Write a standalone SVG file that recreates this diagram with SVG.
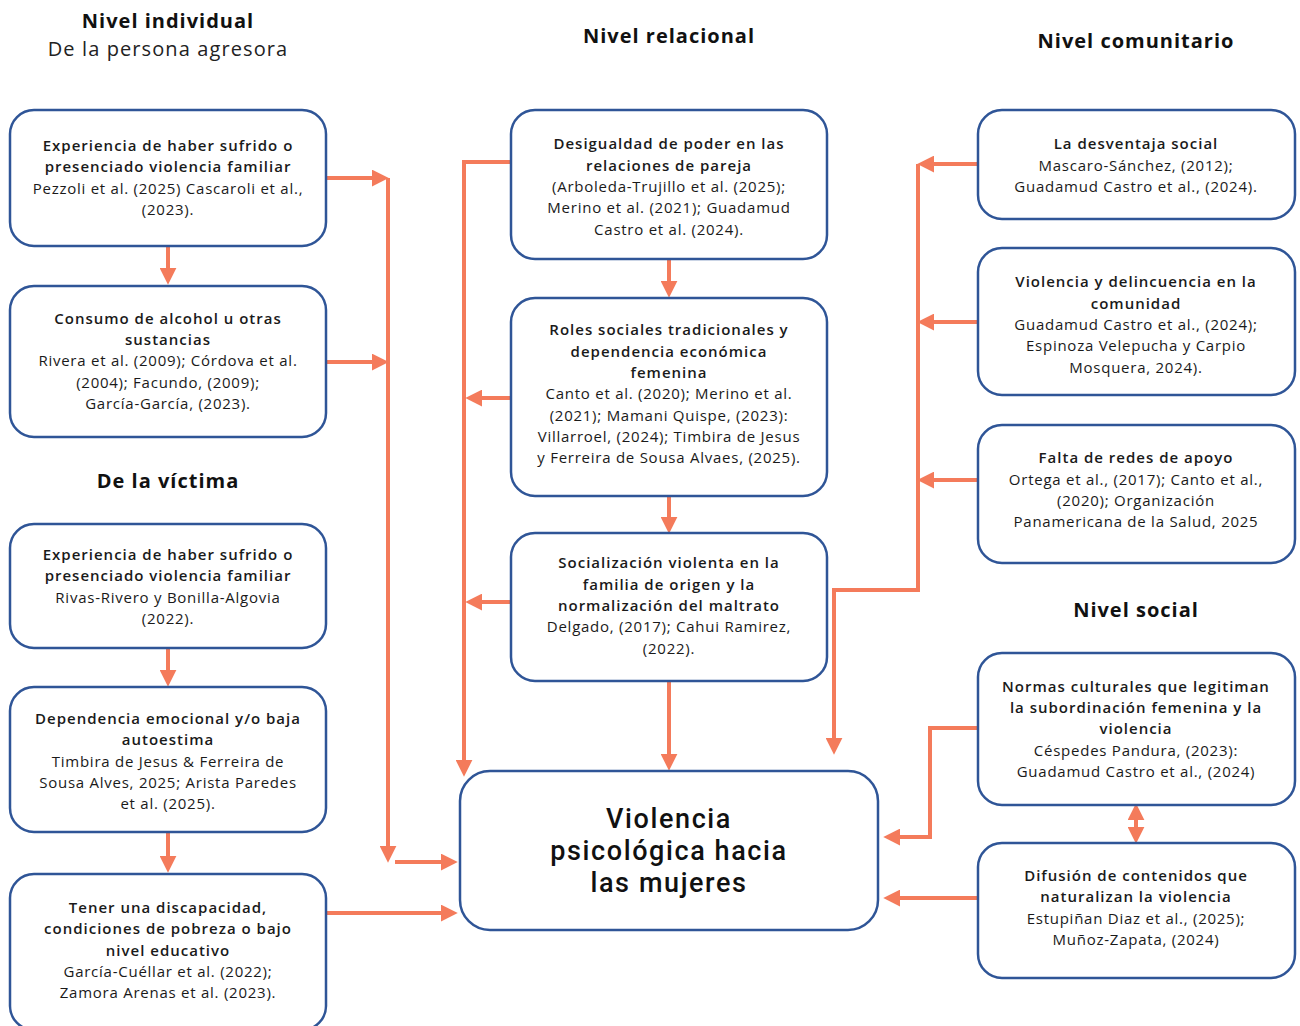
<svg xmlns="http://www.w3.org/2000/svg" width="1300" height="1026" viewBox="0 0 1300 1026">
<style>
.box{fill:#fff;stroke:#2F5597;stroke-width:2.5}
.t{font-family:"Open Sans","Liberation Sans",sans-serif;font-size:15px;fill:#1a1a1a;text-anchor:middle;letter-spacing:0.75px}
.b{font-weight:600;letter-spacing:1px}
.h{font-family:"Open Sans","Liberation Sans",sans-serif;font-size:20px;font-weight:700;fill:#111;text-anchor:middle;letter-spacing:1px}
.hr{font-family:"Open Sans","Liberation Sans",sans-serif;font-size:20px;fill:#222;text-anchor:middle;letter-spacing:1.1px}
.m{font-family:Roboto,"Liberation Sans",sans-serif;font-size:27px;font-weight:500;fill:#111;text-anchor:middle;letter-spacing:1.6px}
.c{fill:none;stroke:#F47B5B;stroke-width:4;marker-end:url(#ah)}
</style>
<defs>
<marker id="ah" markerUnits="userSpaceOnUse" markerWidth="17" markerHeight="17" viewBox="0 0 16 16" refX="4" refY="8" orient="auto-start-reverse">
<path d="M0,0 L16,8 L0,16 z" fill="#F47B5B"/>
</marker>
</defs>

<g id="headers">
<text class="h" x="168" y="28">Nivel individual</text>
<text class="hr" x="168" y="56">De la persona agresora</text>
<text class="h" x="669" y="43">Nivel relacional</text>
<text class="h" x="1136" y="48">Nivel comunitario</text>
<text class="h" x="168" y="488">De la víctima</text>
<text class="h" x="1136" y="617">Nivel social</text>
</g>

<g id="connectors">
<path class="c" d="M168,246 V272"/>
<path class="c" d="M168,648 V674"/>
<path class="c" d="M168,832 V860"/>
<path class="c" d="M326,178 H376"/>
<path class="c" d="M326,362 H376"/>
<path class="c" d="M388,178 V850"/>
<path class="c" d="M395,862 H445"/>
<path class="c" d="M326,913 H445"/>
<path class="c" d="M511,162 H464 V764"/>
<path class="c" d="M511,398 H478"/>
<path class="c" d="M511,602 H478"/>
<path class="c" d="M669,259 V285"/>
<path class="c" d="M669,496 V521"/>
<path class="c" d="M669,681 V758"/>
<path class="c" d="M978,164 H930"/>
<path class="c" d="M978,322 H930"/>
<path class="c" d="M978,480 H930"/>
<path class="c" d="M918,164 V590 H834 V742"/>
<path class="c" d="M978,728 H930 V837 H896"/>
<path class="c" d="M978,898 H896"/>
<path class="c" d="M1136,816 V831" style="marker-start:url(#ah)"/>
</g>

<g id="L1">
<rect class="box" x="10" y="110" width="316" height="136" rx="24"/>
<text class="t b" x="168" y="151">Experiencia de haber sufrido o</text>
<text class="t b" x="168" y="172">presenciado violencia familiar</text>
<text class="t" x="168" y="194">Pezzoli et al. (2025) Cascaroli et al.,</text>
<text class="t" x="168" y="215">(2023).</text>
</g>
<g id="L2">
<rect class="box" x="10" y="286" width="316" height="151" rx="24"/>
<text class="t b" x="168" y="324">Consumo de alcohol u otras</text>
<text class="t b" x="168" y="345">sustancias</text>
<text class="t" x="168" y="366">Rivera et al. (2009); Córdova et al.</text>
<text class="t" x="168" y="388">(2004); Facundo, (2009);</text>
<text class="t" x="168" y="409">García-García, (2023).</text>
</g>
<g id="V1">
<rect class="box" x="10" y="524" width="316" height="124" rx="24"/>
<text class="t b" x="168" y="560">Experiencia de haber sufrido o</text>
<text class="t b" x="168" y="581">presenciado violencia familiar</text>
<text class="t" x="168" y="603">Rivas-Rivero y Bonilla-Algovia</text>
<text class="t" x="168" y="624">(2022).</text>
</g>
<g id="V2">
<rect class="box" x="10" y="687" width="316" height="145" rx="24"/>
<text class="t b" x="168" y="724">Dependencia emocional y/o baja</text>
<text class="t b" x="168" y="745">autoestima</text>
<text class="t" x="168" y="767">Timbira de Jesus &amp; Ferreira de</text>
<text class="t" x="168" y="788">Sousa Alves, 2025; Arista Paredes</text>
<text class="t" x="168" y="809">et al. (2025).</text>
</g>
<g id="V3">
<rect class="box" x="10" y="874" width="316" height="156" rx="24"/>
<text class="t b" x="168" y="913">Tener una discapacidad,</text>
<text class="t b" x="168" y="934">condiciones de pobreza o bajo</text>
<text class="t b" x="168" y="956">nivel educativo</text>
<text class="t" x="168" y="977">García-Cuéllar et al. (2022);</text>
<text class="t" x="168" y="998">Zamora Arenas et al. (2023).</text>
</g>

<g id="C1">
<rect class="box" x="511" y="110" width="316" height="149" rx="24"/>
<text class="t b" x="669" y="149">Desigualdad de poder en las</text>
<text class="t b" x="669" y="171">relaciones de pareja</text>
<text class="t" x="669" y="192">(Arboleda-Trujillo et al. (2025);</text>
<text class="t" x="669" y="213">Merino et al. (2021); Guadamud</text>
<text class="t" x="669" y="235">Castro et al. (2024).</text>
</g>
<g id="C2">
<rect class="box" x="511" y="298" width="316" height="198" rx="24"/>
<text class="t b" x="669" y="335">Roles sociales tradicionales y</text>
<text class="t b" x="669" y="357">dependencia económica</text>
<text class="t b" x="669" y="378">femenina</text>
<text class="t" x="669" y="399">Canto et al. (2020); Merino et al.</text>
<text class="t" x="669" y="421">(2021); Mamani Quispe, (2023):</text>
<text class="t" x="669" y="442">Villarroel, (2024); Timbira de Jesus</text>
<text class="t" x="669" y="463">y Ferreira de Sousa Alvaes, (2025).</text>
</g>
<g id="C3">
<rect class="box" x="511" y="533" width="316" height="148" rx="24"/>
<text class="t b" x="669" y="568">Socialización violenta en la</text>
<text class="t b" x="669" y="590">familia de origen y la</text>
<text class="t b" x="669" y="611">normalización del maltrato</text>
<text class="t" x="669" y="632">Delgado, (2017); Cahui Ramirez,</text>
<text class="t" x="669" y="654">(2022).</text>
</g>
<g id="main">
<rect class="box" x="460" y="771" width="418" height="159" rx="30"/>
<text class="m" x="669" y="828">Violencia</text>
<text class="m" x="669" y="860">psicológica hacia</text>
<text class="m" x="669" y="892">las mujeres</text>
</g>

<g id="R1">
<rect class="box" x="978" y="110" width="317" height="109" rx="24"/>
<text class="t b" x="1136" y="149">La desventaja social</text>
<text class="t" x="1136" y="171">Mascaro-Sánchez, (2012);</text>
<text class="t" x="1136" y="192">Guadamud Castro et al., (2024).</text>
</g>
<g id="R2">
<rect class="box" x="978" y="248" width="317" height="147" rx="24"/>
<text class="t b" x="1136" y="287">Violencia y delincuencia en la</text>
<text class="t b" x="1136" y="309">comunidad</text>
<text class="t" x="1136" y="330">Guadamud Castro et al., (2024);</text>
<text class="t" x="1136" y="351">Espinoza Velepucha y Carpio</text>
<text class="t" x="1136" y="373">Mosquera, 2024).</text>
</g>
<g id="R3">
<rect class="box" x="978" y="425" width="317" height="138" rx="24"/>
<text class="t b" x="1136" y="463">Falta de redes de apoyo</text>
<text class="t" x="1136" y="485">Ortega et al., (2017); Canto et al.,</text>
<text class="t" x="1136" y="506">(2020); Organización</text>
<text class="t" x="1136" y="527">Panamericana de la Salud, 2025</text>
</g>
<g id="S1">
<rect class="box" x="978" y="653" width="317" height="152" rx="24"/>
<text class="t b" x="1136" y="692">Normas culturales que legitiman</text>
<text class="t b" x="1136" y="713">la subordinación femenina y la</text>
<text class="t b" x="1136" y="734">violencia</text>
<text class="t" x="1136" y="756">Céspedes Pandura, (2023):</text>
<text class="t" x="1136" y="777">Guadamud Castro et al., (2024)</text>
</g>
<g id="S2">
<rect class="box" x="978" y="843" width="317" height="135" rx="24"/>
<text class="t b" x="1136" y="881">Difusión de contenidos que</text>
<text class="t b" x="1136" y="902">naturalizan la violencia</text>
<text class="t" x="1136" y="924">Estupiñan Diaz et al., (2025);</text>
<text class="t" x="1136" y="945">Muñoz-Zapata, (2024)</text>
</g>
</svg>
